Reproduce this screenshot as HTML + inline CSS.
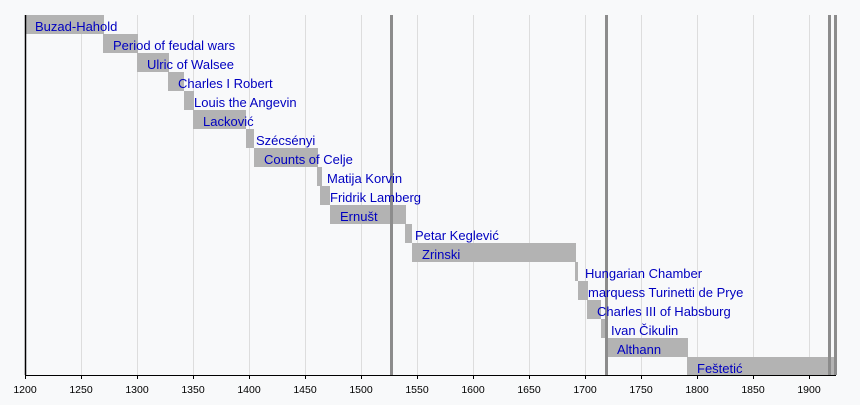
<!DOCTYPE html>
<html><head><meta charset="utf-8"><style>
body{margin:0;background:#f8f9fa;}
svg{display:block}
text{font-family:"Liberation Sans",sans-serif;}
</style></head><body>
<svg width="860" height="405" xmlns="http://www.w3.org/2000/svg">
<rect width="860" height="405" fill="#f8f9fa"/>
<g stroke="#dddddd" stroke-width="1">
<line x1="81.5" y1="15" x2="81.5" y2="375"/><line x1="137.5" y1="15" x2="137.5" y2="375"/>
<line x1="193.5" y1="15" x2="193.5" y2="375"/><line x1="249.5" y1="15" x2="249.5" y2="375"/>
<line x1="305.5" y1="15" x2="305.5" y2="375"/><line x1="361.5" y1="15" x2="361.5" y2="375"/>
<line x1="417.5" y1="15" x2="417.5" y2="375"/><line x1="473.5" y1="15" x2="473.5" y2="375"/>
<line x1="529.5" y1="15" x2="529.5" y2="375"/><line x1="585.5" y1="15" x2="585.5" y2="375"/>
<line x1="641.5" y1="15" x2="641.5" y2="375"/><line x1="697.5" y1="15" x2="697.5" y2="375"/>
<line x1="753.5" y1="15" x2="753.5" y2="375"/><line x1="809.5" y1="15" x2="809.5" y2="375"/>
</g>
<g fill="#b3b3b3">
<rect x="26" y="15" width="78" height="19"/>
<rect x="103" y="34" width="35" height="19"/>
<rect x="137" y="53" width="32" height="19"/>
<rect x="168" y="72" width="16" height="19"/>
<rect x="184" y="91" width="10" height="19"/>
<rect x="193" y="110" width="53" height="19"/>
<rect x="246" y="129" width="8" height="19"/>
<rect x="254" y="148" width="64" height="19"/>
<rect x="317" y="167" width="5" height="19"/>
<rect x="320" y="186" width="10" height="19"/>
<rect x="330" y="205" width="76" height="19"/>
<rect x="405" y="224" width="7" height="19"/>
<rect x="412" y="243" width="164" height="19"/>
<rect x="575" y="262" width="3" height="19"/>
<rect x="578" y="281" width="10" height="19"/>
<rect x="587" y="300" width="14" height="19"/>
<rect x="601" y="319" width="6" height="19"/>
<rect x="607" y="338" width="81" height="19"/>
<rect x="687" y="357" width="149" height="18"/>
</g>
<g fill="#8c8c8c">
<rect x="390" y="15" width="3" height="360"/>
<rect x="605" y="15" width="3" height="360"/>
<rect x="828" y="15" width="3" height="360"/>
<rect x="834" y="15" width="3" height="360"/>
</g>
<g fill="#0000c0" font-size="13">
<text x="35" y="31">Buzad-Hahold</text>
<text x="113" y="50">Period of feudal wars</text>
<text x="147" y="69">Ulric of Walsee</text>
<text x="178" y="88">Charles I Robert</text>
<text x="194" y="107">Louis the Angevin</text>
<text x="203" y="126">Lacković</text>
<text x="256" y="145">Szécsényi</text>
<text x="264" y="164">Counts of Celje</text>
<text x="327" y="183">Matija Korvin</text>
<text x="330" y="202">Fridrik Lamberg</text>
<text x="340" y="221">Ernušt</text>
<text x="415" y="240">Petar Keglević</text>
<text x="422" y="259">Zrinski</text>
<text x="585" y="278">Hungarian Chamber</text>
<text x="588" y="297">marquess Turinetti de Prye</text>
<text x="597" y="316">Charles III of Habsburg</text>
<text x="611" y="335">Ivan Čikulin</text>
<text x="617" y="354">Althann</text>
<text x="697" y="373">Feštetić</text>
</g>
<line x1="25.5" y1="15" x2="25.5" y2="375" stroke="#000" stroke-width="1.5"/>
<line x1="25" y1="375.5" x2="836" y2="375.5" stroke="#000" stroke-width="1"/>
<g stroke="#000" stroke-width="1">
<line x1="25.5" y1="375" x2="25.5" y2="379"/><line x1="81.5" y1="375" x2="81.5" y2="379"/>
<line x1="137.5" y1="375" x2="137.5" y2="379"/><line x1="193.5" y1="375" x2="193.5" y2="379"/>
<line x1="249.5" y1="375" x2="249.5" y2="379"/><line x1="305.5" y1="375" x2="305.5" y2="379"/>
<line x1="361.5" y1="375" x2="361.5" y2="379"/><line x1="417.5" y1="375" x2="417.5" y2="379"/>
<line x1="473.5" y1="375" x2="473.5" y2="379"/><line x1="529.5" y1="375" x2="529.5" y2="379"/>
<line x1="585.5" y1="375" x2="585.5" y2="379"/><line x1="641.5" y1="375" x2="641.5" y2="379"/>
<line x1="697.5" y1="375" x2="697.5" y2="379"/><line x1="753.5" y1="375" x2="753.5" y2="379"/>
<line x1="809.5" y1="375" x2="809.5" y2="379"/>
</g>
<g fill="#000" font-size="10.5" text-anchor="middle">
<text x="25" y="393">1200</text><text x="81" y="393">1250</text><text x="137" y="393">1300</text>
<text x="193" y="393">1350</text><text x="249" y="393">1400</text><text x="305" y="393">1450</text>
<text x="361" y="393">1500</text><text x="417" y="393">1550</text><text x="473" y="393">1600</text>
<text x="529" y="393">1650</text><text x="585" y="393">1700</text><text x="641" y="393">1750</text>
<text x="697" y="393">1800</text><text x="753" y="393">1850</text><text x="809" y="393">1900</text>
</g>
</svg>
</body></html>
